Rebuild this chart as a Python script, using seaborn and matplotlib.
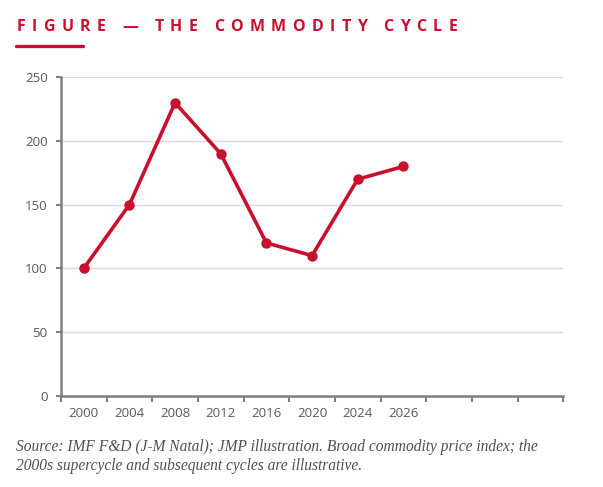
import numpy as np
import pandas as pd
import matplotlib
matplotlib.use("Agg")
import matplotlib.pyplot as plt
import seaborn as sns


# data
years = ["2000", "2004", "2008", "2012", "2016", "2020", "2024", "2026"]
index_values = [100, 150, 230, 190, 120, 110, 170, 180]
n_slots = 11          # the category axis keeps 3 empty slots on the right
y_ticks = [0, 50, 100, 150, 200, 250]

title = "FIGURE \u2014 THE COMMODITY CYCLE"
caption_lines = [
    "Source: IMF F&D (J-M Natal); JMP illustration. Broad commodity price index; the",
    "2000s supercycle and subsequent cycles are illustrative.",
]

RED = "#C8102E"
GREY = "#7f7f7f"
GRID = "#d9d9d9"
TEXT = "#595959"


def main():

    sns.set_style("white")
    plt.rcParams["font.family"] = ["Open Sans", "DejaVu Sans"]

    df = pd.DataFrame({"pos": np.arange(len(years)), "value": index_values})

    fig = plt.figure(figsize=(6.03, 4.87), dpi=100)
    ax = fig.add_axes([0.101, 0.1873, 0.833, 0.654])

    sns.lineplot(
        data=df,
        x="pos",
        y="value",
        color=RED,
        linewidth=2.6,
        marker="o",
        markersize=7.5,
        markeredgewidth=0,
        ax=ax
    )

    ax.set_xlim(-0.5, n_slots - 0.5)
    ax.set_ylim(0, 250)

    # band boundaries as tick marks, labels in band centres
    ax.set_xticks(np.arange(n_slots + 1) - 0.5)
    ax.set_xticklabels([])
    ax.set_xticks(np.arange(len(years)), minor=True)
    ax.set_xticklabels(years, minor=True)
    ax.tick_params(axis="x", which="major", length=4.5, width=1.5,
                   color=GREY, direction="out", bottom=True)
    ax.tick_params(axis="x", which="minor", length=0, pad=8,
                   labelsize=9.5, labelcolor=TEXT)

    ax.set_yticks(y_ticks)
    ax.tick_params(axis="y", length=3.5, width=1.5, color=GREY,
                   direction="out", left=True, pad=6,
                   labelsize=9.5, labelcolor=TEXT)

    ax.yaxis.grid(True, color=GRID, linewidth=1)
    ax.xaxis.grid(False)
    ax.set_axisbelow(True)

    for side in ["top", "right"]:
        ax.spines[side].set_visible(False)
    for side in ["left", "bottom"]:
        ax.spines[side].set_color(GREY)
        ax.spines[side].set_linewidth(1.8)

    ax.set_xlabel("")
    ax.set_ylabel("")

    # letter-spaced title
    renderer = fig.canvas.get_renderer()
    x = 16.5 / 603
    y = 1 - 27 / 487
    tracking = 6.4 / 603
    for ch in title:
        t = fig.text(x, y, ch, color=RED, fontsize=11.5, fontweight="bold",
                     va="center", ha="left")
        w = t.get_window_extent(renderer).width / fig.bbox.width
        if ch == " ":
            w = 3.5 / 603
        x += w + tracking

    fig.add_artist(plt.Line2D([16 / 603, 83 / 603],
                              [1 - 45.5 / 487, 1 - 45.5 / 487],
                              color=RED, linewidth=2.4,
                              transform=fig.transFigure))

    # caption
    for i, line in enumerate(caption_lines):
        fig.text(16 / 603, 1 - (447 + 19 * i) / 487, line,
                 family=["Liberation Serif", "DejaVu Serif"],
                 style="italic", fontsize=11.2, color="#505050",
                 va="center", ha="left")

    fig.savefig("out.png", dpi=100)
    plt.close(fig)


if __name__ == "__main__":

    main()
